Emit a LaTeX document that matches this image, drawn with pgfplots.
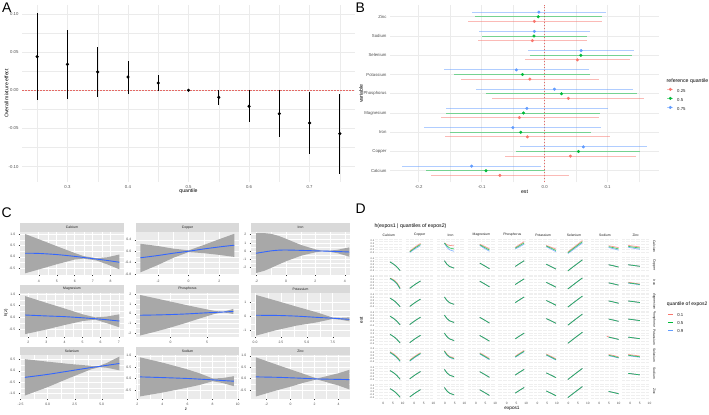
\documentclass[border=0pt]{standalone}
\usepackage{fontspec}
\setmainfont{Liberation Sans}
\usepackage{pgfplots}
\pgfplotsset{compat=1.18}
\usepackage{pgfplotstable}

\definecolor{ggred}{HTML}{F8766D}
\definecolor{gggreen}{HTML}{00BA38}
\definecolor{ggblue}{HTML}{619CFF}
\definecolor{grid92}{HTML}{EBEBEB}
\definecolor{gray30}{HTML}{4D4D4D}
\definecolor{gray20}{HTML}{333333}
\definecolor{gray10}{HTML}{1A1A1A}
\definecolor{stripbg}{HTML}{D9D9D9}
\definecolor{panelgray}{HTML}{EBEBEB}
\definecolor{ribbon}{HTML}{A8A8A8}
\definecolor{smoothblue}{HTML}{3366FF}
\definecolor{refred}{HTML}{E46A66}
\definecolor{Dbg}{HTML}{EFEFEF}
\definecolor{Dgrid}{HTML}{FFFFFF}

\newcommand\fs[1]{\fontsize{#1}{#1}\selectfont}

\pgfplotsset{
 /pgf/number format/assume math mode=true,
 ggA/.style={anchor=south west, scale only axis, axis line style={draw=none},
   major tick length=0pt, minor tick length=0pt, tick style={draw=none},
   grid=both, major grid style={draw=grid92, line width=0.55bp},
   minor grid style={draw=grid92, line width=0.3bp},
   tick label style={font=\fs{4.3}, text=gray30}, clip=false},
 Cfacet/.style={anchor=south west, scale only axis, height=43.4bp,
   axis background/.style={fill=panelgray}, grid=both,
   major grid style={draw=white, line width=0.5bp},
   minor grid style={draw=white, line width=0.25bp},
   axis line style={draw=none}, tick align=outside, tick pos=left,
   major tick length=1.3bp, minor tick length=0pt,
   major tick style={draw=gray20, line width=0.4bp}, minor tick style={draw=none},
   minor x tick num=1, minor y tick num=1,
   tick label style={font=\fs{3.4}, text=gray30}},
 Cribbon/.style={draw=none, fill=ribbon},
 Cline/.style={smoothblue, line width=0.9bp, smooth},
 Dcell/.style={anchor=south west, scale only axis, width=27.7bp, height=15.3bp,
   xmin=-4.3, xmax=10.05, ymin=-0.5, ymax=0.5,
   axis background/.style={fill=Dbg}, grid=both,
   major grid style={draw=Dgrid, line width=0.35bp},
   minor grid style={draw=Dgrid, line width=0.2bp},
   xtick={0,5,10}, minor xtick={-2.5,2.5,7.5},
   ytick={-0.4,-0.2,0,0.2,0.4}, minor ytick={-0.3,-0.1,0.1,0.3},
   axis line style={draw=none}, major tick length=0pt, minor tick length=0pt,
   tick style={draw=none}, xticklabels={}, yticklabels={},
   xticklabel style={font=\fs{3.2}, text=gray30},
   yticklabel style={font=\fs{2.5}, text=gray30, inner sep=0.6bp}},
 Dline/.style={line width=0.7bp, opacity=0.75, smooth},
 Dr0/.style={}, Dr1/.style={}, Dr2/.style={}, Dr3/.style={}, Dr4/.style={},
 Dr5/.style={}, Dr6/.style={}, Dr7/.style={}, Dr8/.style={xticklabels={0,5,10}},
 Dc0/.style={yticklabels={-0.4,-0.2,0.0,0.2,0.4}}, Dc1/.style={}, Dc2/.style={},
 Dc3/.style={}, Dc4/.style={}, Dc5/.style={}, Dc6/.style={}, Dc7/.style={}, Dc8/.style={},
}

\newcommand\Dpos[2]{\pgfmathsetmacro\Dx{375+30.86*#2}\pgfmathsetmacro\Dy{159.7-18.1*#1}}
\newcommand\Dtri[5]{\Dpos{#1}{#2}%
 \begin{axis}[Dcell, Dr#1, Dc#2, at={(\Dx bp,\Dy bp)}]
 \addplot[Dline, ggred] coordinates {#3};
 \addplot[Dline, ggblue] coordinates {#5};
 \addplot[Dline, gggreen] coordinates {#4};
 \end{axis}}
\newcommand\Dsame[3]{\Dtri{#1}{#2}{#3}{#3}{#3}}
\newcommand\Dempty[1]{\Dpos{#1}{#1}%
 \begin{axis}[Dcell, Dr#1, Dc#1, at={(\Dx bp,\Dy bp)}]
 \end{axis}}

\pgfplotstableread{
q est lo hi
0.25 0.044 -0.0127 0.1008
0.30 0.034 -0.011 0.0785
0.35 0.024 -0.0088 0.0563
0.40 0.0174 -0.0044 0.039
0.45 0.0096 -0.0005 0.0196
0.50 0 0 0
0.55 -0.0092 -0.0196 0.0
0.60 -0.021 -0.041 0.0005
0.65 -0.0306 -0.061 0.0
0.70 -0.0428 -0.0838 -0.002
0.75 -0.0568 -0.109 -0.005
}\tabA

\pgfplotstableread{
y est lo hi
0.76 -0.071 -0.180 0.039
1.76 0.041 -0.0622 0.1448
2.76 -0.0273 -0.159 0.1044
3.76 -0.040 -0.165 0.086
4.76 0.0378 -0.0833 0.158
5.76 -0.0235 -0.1325 0.0865
6.76 0.052 -0.031 0.135
7.76 -0.0194 -0.106 0.068
8.76 -0.0162 -0.122 0.0913
}\tabBr
\pgfplotstableread{
y est lo hi
1 -0.0933 -0.188 0.0
2 0.0537 -0.0448 0.1516
3 -0.0378 -0.150 0.0738
4 -0.0336 -0.156 0.0886
5 0.0267 -0.0933 0.1473
6 -0.0352 -0.1437 0.0727
7 0.0575 -0.0225 0.1384
8 -0.0171 -0.1003 0.0675
9 -0.0103 -0.110 0.0908
}\tabBg
\pgfplotstableread{
y est lo hi
1.24 -0.116 -0.2262 -0.006
2.24 0.0616 -0.0394 0.1622
3.24 -0.0505 -0.1917 0.090
4.24 -0.0283 -0.157 0.100
5.24 0.0156 -0.1087 0.140
6.24 -0.0448 -0.1606 0.0706
7.24 0.058 -0.026 0.1425
8.24 -0.0162 -0.104 0.0722
9.24 -0.0092 -0.116 0.0976
}\tabBb

\begin{document}
\begin{tikzpicture}[x=1bp,y=1bp]
\useasboundingbox (0,0) rectangle (709,414);

% ================= Panel A =================
\begin{axis}[ggA, at={(22bp,232.4bp)}, width=333bp, height=176.1bp,
  xmin=0.225, xmax=0.775, ymin=-0.1195, ymax=0.111,
  xtick={0.3,0.4,0.5,0.6,0.7}, xticklabels={0.3,0.4,0.5,0.6,0.7},
  minor xtick={0.25,0.35,0.45,0.55,0.65,0.75},
  ytick={-0.1,-0.05,0,0.05,0.1}, yticklabels={-0.10,-0.05,0.00,0.05,0.10},
  minor ytick={-0.075,-0.025,0.025,0.075}]
\addplot[refred, line width=0.6bp, dash pattern=on 1.6bp off 1.4bp] coordinates {(0.225,0) (0.775,0)};
\addplot[black, only marks, mark=*, mark size=1.4bp,
  error bars/.cd, y dir=both, y explicit, error mark=none,
  error bar style={line width=0.8bp, black}]
  table[x=q, y=est, y error plus expr=\thisrow{hi}-\thisrow{est}, y error minus expr=\thisrow{est}-\thisrow{lo}] {\tabA};
\end{axis}
\node[anchor=north west, inner sep=0, font=\fs{14}] at (2,411) {A};
\node[rotate=90, font=\fs{5.2}] at (6.5,320.5) {Overall mixture effect};
\node[font=\fs{5.2}] at (188.5,222.5) {quantile};

% ================= Panel B =================
\begin{axis}[ggA, at={(390bp,231.7bp)}, width=269bp, height=177.1bp,
  xmin=-0.2456, xmax=0.1816, ymin=0.4, ymax=9.6,
  xtick={-0.2,-0.1,0,0.1}, xticklabels={-0.2,-0.1,0.0,0.1},
  minor xtick={-0.15,-0.05,0.05,0.15},
  ytick={1,2,3,4,5,6,7,8,9},
  yticklabels={Calcium,Copper,Iron,Magnesium,Phosphorus,Potassium,Selenium,Sodium,Zinc}]
\addplot[refred, line width=0.6bp, dash pattern=on 1.6bp off 1.4bp] coordinates {(0,0.4) (0,9.6)};
\addplot[ggred, only marks, mark=*, mark size=1.35bp,
  error bars/.cd, x dir=both, x explicit, error mark=none,
  error bar style={line width=0.9bp, ggred, opacity=0.5}]
  table[x=est, y=y, x error plus expr=\thisrow{hi}-\thisrow{est}, x error minus expr=\thisrow{est}-\thisrow{lo}] {\tabBr};
\addplot[gggreen, only marks, mark=*, mark size=1.35bp,
  error bars/.cd, x dir=both, x explicit, error mark=none,
  error bar style={line width=0.9bp, gggreen, opacity=0.5}]
  table[x=est, y=y, x error plus expr=\thisrow{hi}-\thisrow{est}, x error minus expr=\thisrow{est}-\thisrow{lo}] {\tabBg};
\addplot[ggblue, only marks, mark=*, mark size=1.35bp,
  error bars/.cd, x dir=both, x explicit, error mark=none,
  error bar style={line width=0.9bp, ggblue, opacity=0.5}]
  table[x=est, y=y, x error plus expr=\thisrow{hi}-\thisrow{est}, x error minus expr=\thisrow{est}-\thisrow{lo}] {\tabBb};
\end{axis}
\node[anchor=north west, inner sep=0, font=\fs{14}] at (355.5,411) {B};
\node[rotate=90, font=\fs{5.2}] at (361,320.3) {variable};
\node[font=\fs{5.2}] at (524.5,222.5) {est};
\node[anchor=west, inner sep=0, font=\fs{5.2}] at (666.5,333) {reference quantile};
\begin{axis}[hide axis, scale only axis, width=1bp, height=1bp, xmin=0, xmax=1, ymin=0, ymax=1,
  anchor=south west, at={(666.9bp,326.25bp)},
  legend style={at={(0,0)}, anchor=north west, draw=none, fill=none, inner sep=0pt, outer sep=0pt,
    font=\fs{4.3}, text=gray10, row sep=4.1bp,
    nodes={inner sep=0.4bp, text height=3.1bp, text depth=0bp},
    /tikz/every odd column/.append style={column sep=3bp}},
  legend cell align=left,
  legend image code/.code={\draw[#1, line width=0.9bp, opacity=0.5] (0bp,1.5bp) -- (6bp,1.5bp); \fill[#1] (3bp,1.5bp) circle (1.35bp);}]
\addlegendimage{ggred}\addlegendentry{0.25}
\addlegendimage{gggreen}\addlegendentry{0.5}
\addlegendimage{ggblue}\addlegendentry{0.75}
\end{axis}

% ================= Panel C =================
\begin{axis}[Cfacet, name=c1, at={(20bp,139.1bp)}, width=104bp,
  xmin=2.96, xmax=8.74, ymin=-0.80, ymax=1.12,
  xtick={4,5,6,7,8}, xticklabels={4,5,6,7,8},
  ytick={-0.5,0,0.5,1}, yticklabels={-0.5,0.0,0.5,1.0}]
\addplot[Cribbon] coordinates {(3.24,1.01)(4,0.78)(5,0.47)(6,0.17)(6.5,0.03)(7.2,-0.06)(7.8,-0.02)(8.48,0.10)(8.48,-0.55)(7.8,-0.33)(7.2,-0.16)(6.5,-0.08)(6,-0.12)(5,-0.33)(4,-0.56)(3.24,-0.73)};
\addplot[Cline] coordinates {(3.24,0.16)(4,0.15)(5,0.10)(6,0.02)(6.5,-0.03)(7.2,-0.10)(7.8,-0.16)(8.48,-0.24)};
\end{axis}
\begin{axis}[Cfacet, name=c2, at={(136bp,139.1bp)}, width=103bp,
  xmin=-3.44, xmax=3.29, ymin=-0.83, ymax=0.69,
  xtick={-2,0,2}, xticklabels={-2,0,2},
  ytick={-0.8,-0.4,0,0.4}, yticklabels={-0.8,-0.4,0.0,0.4}]
\addplot[Cribbon] coordinates {(-3.15,0.26)(-2,0.18)(-1,0.09)(0,0.03)(1,0.22)(2,0.42)(2.98,0.61)(2.98,-0.2)(2,-0.13)(1,-0.07)(0,-0.03)(-1,-0.23)(-2,-0.48)(-3.15,-0.74)};
\addplot[Cline] coordinates {(-3.15,-0.23)(-2,-0.15)(-1,-0.07)(0,0.0)(1,0.08)(2,0.15)(2.98,0.21)};
\end{axis}
\begin{axis}[Cfacet, name=c3, at={(251bp,139.1bp)}, width=99bp,
  xmin=-2.38, xmax=4.35, ymin=-2.93, ymax=2.39,
  xtick={-2,0,2,4}, xticklabels={-2,0,2,4},
  ytick={-2,-1,0,1,2}, yticklabels={-2,-1,0,1,2}]
\addplot[Cribbon] coordinates {(-2.04,2.2)(-1.5,2.2)(-1,2.1)(-0.5,1.85)(0,1.5)(1,0.75)(2,0.2)(2.5,0.03)(3,0.05)(3.5,0.15)(4.3,0.45)(4.3,-0.69)(3.5,-0.27)(3,-0.11)(2.5,-0.03)(2,-0.16)(1,-0.59)(0,-1.26)(-0.5,-1.65)(-1,-2.06)(-1.5,-2.44)(-2.04,-2.7)};
\addplot[Cline] coordinates {(-2.04,-0.28)(-1.5,-0.12)(-1,0.02)(-0.5,0.1)(0,0.12)(1,0.08)(2,0.02)(3,-0.03)(4.3,-0.12)};
\end{axis}
\begin{axis}[Cfacet, name=c4, at={(20bp,77.3bp)}, width=104bp,
  xmin=1.54, xmax=7.29, ymin=-0.83, ymax=1.03,
  xtick={2,3,4,5,6,7}, xticklabels={2,3,4,5,6,7},
  ytick={-0.5,0,0.5,1}, yticklabels={-0.5,0.0,0.5,1.0}]
\addplot[Cribbon] coordinates {(1.82,0.91)(3,0.62)(4,0.38)(5,0.13)(5.7,0.0)(6.3,0.03)(7.04,0.13)(7.04,-0.43)(6.3,-0.24)(5.7,-0.1)(5,-0.16)(4,-0.33)(3,-0.52)(1.82,-0.72)};
\addplot[Cline] coordinates {(1.82,0.1)(3,0.06)(4,0.03)(5,-0.02)(5.7,-0.06)(6.3,-0.1)(7.04,-0.16)};
\end{axis}
\begin{axis}[Cfacet, name=c5, at={(136bp,77.3bp)}, width=103bp,
  xmin=-4.73, xmax=9.38, ymin=-2.35, ymax=2.1,
  xtick={0,5}, xticklabels={0,5},
  ytick={-2,-1,0,1,2}, yticklabels={-2,-1,0,1,2}]
\addplot[Cribbon] coordinates {(-4.18,1.93)(-2,1.58)(0,1.25)(2,0.92)(4,0.6)(6,0.3)(7.2,0.2)(8.6,0.5)(8.6,-0.02)(7.2,0.16)(6,-0.02)(4,-0.48)(2,-0.96)(0,-1.41)(-2,-1.82)(-4.18,-2.23)};
\addplot[Cline] coordinates {(-4.18,-0.15)(-2,-0.12)(0,-0.08)(2,-0.02)(4,0.06)(6,0.14)(7.2,0.18)(8.6,0.24)};
\end{axis}
\begin{axis}[Cfacet, name=c6, at={(251bp,77.3bp)}, width=99bp,
  xmin=-0.39, xmax=9.17, ymin=-1.43, ymax=1.67,
  xtick={0,2.5,5,7.5}, xticklabels={0.0,2.5,5.0,7.5},
  ytick={-1,0,1}, yticklabels={-1,0,1}]
\addplot[Cribbon] coordinates {(0.1,1.55)(2,1.15)(4,0.72)(6,0.3)(7.5,-0.06)(8.3,-0.08)(9.1,-0.05)(9.1,-0.33)(8.3,-0.22)(7.5,-0.16)(6,-0.4)(4,-0.64)(2,-0.97)(0.1,-1.35)};
\addplot[Cline] coordinates {(0.1,0.1)(2,0.09)(4,0.04)(6,-0.05)(7.5,-0.11)(8.3,-0.15)(9.1,-0.19)};
\end{axis}
\begin{axis}[Cfacet, name=c7, at={(20bp,15.3bp)}, width=104bp,
  xmin=-2.56, xmax=7.06, ymin=-1.23, ymax=0.68,
  xtick={-2.5,0,2.5,5}, xticklabels={-2.5,0.0,2.5,5.0},
  ytick={-1,-0.5,0,0.5}, yticklabels={-1.0,-0.5,0.0,0.5}]
\addplot[Cribbon] coordinates {(-2.1,0.51)(0,0.4)(2,0.3)(4,0.22)(4.8,0.22)(5.5,0.35)(6.63,0.62)(6.63,0.02)(5.5,0.13)(4.8,0.16)(4,0.06)(2,-0.32)(0,-0.72)(-2.1,-1.09)};
\addplot[Cline] coordinates {(-2.1,-0.29)(0,-0.16)(2,-0.01)(4,0.14)(4.8,0.19)(5.5,0.24)(6.63,0.32)};
\end{axis}
\begin{axis}[Cfacet, name=c8, at={(136bp,15.3bp)}, width=103bp,
  xmin=1.9, xmax=10.1, ymin=-0.89, ymax=1.02,
  xtick={2,4,6,8,10}, xticklabels={2,4,6,8,10},
  ytick={-0.5,0,0.5,1}, yticklabels={-0.5,0.0,0.5,1.0}]
\addplot[Cribbon] coordinates {(2.22,0.93)(4,0.7)(6,0.4)(7,0.22)(8,0.0)(8.8,0.02)(9.7,0.1)(9.7,-0.34)(8.8,-0.2)(8,-0.12)(7,-0.28)(6,-0.4)(4,-0.62)(2.22,-0.79)};
\addplot[Cline] coordinates {(2.22,0.07)(4,0.04)(6,0.0)(7,-0.03)(8,-0.06)(8.8,-0.09)(9.7,-0.12)};
\end{axis}
\begin{axis}[Cfacet, name=c9, at={(251bp,15.3bp)}, width=99bp,
  xmin=-3.29, xmax=4.96, ymin=-0.89, ymax=1.02,
  xtick={-2,0,2,4}, xticklabels={-2,0,2,4},
  ytick={-0.5,0,0.5,1}, yticklabels={-0.5,0.0,0.5,1.0}]
\addplot[Cribbon] coordinates {(-2.88,0.93)(-1,0.58)(0,0.4)(1,0.22)(2.2,0.0)(3,0.1)(4,0.23)(4.9,0.38)(4.9,-0.48)(4,-0.31)(3,-0.16)(2.2,-0.04)(1,-0.2)(0,-0.36)(-1,-0.5)(-2.88,-0.79)};
\addplot[Cline] coordinates {(-2.88,0.07)(-1,0.05)(0,0.03)(1,0.01)(2.2,-0.02)(3,-0.03)(4,-0.04)(4.9,-0.05)};
\end{axis}
\foreach \a/\t in {c1/Calcium,c2/Copper,c3/Iron,c4/Magnesium,c5/Phosphorus,c6/Potassium,c7/Selenium,c8/Sodium,c9/Zinc}{
  \fill[stripbg] (\a.north west) rectangle ([yshift=8.5bp]\a.north east);
  \node[font=\fs{3.4}, text=gray10] at ([yshift=4.25bp]\a.north) {\t};
}
\node[anchor=north west, inner sep=0, font=\fs{14}] at (1.5,206) {C};
\node[rotate=90, font=\fs{4.3}] at (6,101) {h(z)};
\node[font=\fs{4.3}] at (186,5) {z};

% ================= Panel D =================
\node[anchor=north west, inner sep=0, font=\fs{14}] at (355.5,210.5) {D};
\node[anchor=west, inner sep=0, font=\fs{5.2}] at (374.3,188.3) {h(expos1 | quantiles of expos2)};
\foreach \t [count=\i from 0] in {Calcium,Copper,Iron,Magnesium,Phosphorus,Potassium,Selenium,Sodium,Zinc}{
  \node[font=\fs{3.4}, text=gray10] at ({388.85+30.86*\i},179) {\t};
  \begin{scope}
  \clip (650,{159.7-18.1*\i}) rectangle (659,{175-18.1*\i});
  \node[rotate=-90, font=\fs{3.4}, text=gray10] at (654.3,{167.35-18.1*\i}) {\t};
  \end{scope}
}
\node[rotate=90, font=\fs{4.7}] at (361.5,94) {est};
\node[font=\fs{4.7}] at (512,5.3) {expos1};

% row 0: Calcium
\Dempty{0}
\Dtri{0}{1}{(-2.3,-0.30)(0.5,-0.02)(3.3,0.21)}{(-2.3,-0.34)(0.5,-0.08)(3.3,0.14)}{(-2.3,-0.38)(0.5,-0.14)(3.3,0.07)}
\Dtri{0}{2}{(-0.3,0.24)(1,0.13)(2.3,0.08)(4.7,0.06)}{(-0.3,0.24)(1,0.05)(2.3,-0.08)(4.7,-0.15)}{(-0.3,0.22)(1,-0.04)(2.3,-0.2)(4.7,-0.3)}
\Dtri{0}{3}{(2,0.16)(4.5,0.02)(7,-0.14)}{(2,0.12)(4.5,-0.05)(7,-0.22)}{(2,0.08)(4.5,-0.12)(7,-0.3)}
\Dtri{0}{4}{(4.4,-0.05)(6.7,0.14)(9,0.32)}{(4.4,-0.1)(6.7,0.07)(9,0.24)}{(4.4,-0.15)(6.7,0.0)(9,0.16)}
\Dtri{0}{5}{(4.5,0.08)(7,-0.04)(9.5,-0.16)}{(4.5,0.04)(7,-0.1)(9.5,-0.25)}{(4.5,0.0)(7,-0.16)(9.5,-0.33)}
\Dtri{0}{6}{(-0.3,-0.34)(3.5,0.03)(7.2,0.4)}{(-0.3,-0.4)(3.5,-0.03)(7.2,0.32)}{(-0.3,-0.45)(3.5,-0.1)(7.2,0.24)}
\Dtri{0}{7}{(4.8,0.06)(7.4,0.0)(10,-0.06)}{(4.8,0.0)(7.4,-0.07)(10,-0.15)}{(4.8,-0.05)(7.4,-0.14)(10,-0.23)}
\Dtri{0}{8}{(-1,0.08)(2,0.03)(5,-0.02)}{(-1,0.02)(2,-0.04)(5,-0.09)}{(-1,-0.04)(2,-0.11)(5,-0.17)}
% row 1: Copper
\Dsame{1}{0}{(3.5,0.18)(5.2,0.05)(7,-0.14)(8.7,-0.38)}
\Dempty{1}
\Dsame{1}{2}{(-0.3,0.26)(1,0.03)(2.3,-0.11)(4.7,-0.22)}
\Dsame{1}{3}{(2,0.11)(4.5,-0.07)(7,-0.26)}
\Dsame{1}{4}{(4.4,-0.11)(6.7,0.08)(9,0.26)}
\Dsame{1}{5}{(4.5,0.03)(7,-0.12)(9.5,-0.28)}
\Dsame{1}{6}{(-0.3,-0.4)(3.5,-0.03)(7.2,0.32)}
\Dsame{1}{7}{(4.8,0.0)(7.4,-0.07)(10,-0.15)}
\Dsame{1}{8}{(-1,0.0)(2,-0.05)(5,-0.1)}
% row 2: Iron
\Dtri{2}{0}{(3.5,0.31)(5.2,0.21)(7,0.01)(8.7,-0.33)}{(3.5,0.29)(5.2,0.17)(7,-0.04)(8.7,-0.38)}{(3.5,0.27)(5.2,0.14)(7,-0.07)(8.7,-0.41)}
\Dsame{2}{1}{(-2.3,-0.36)(0.5,-0.1)(3.3,0.12)}
\Dempty{2}
\Dsame{2}{3}{(2,0.11)(4.5,-0.07)(7,-0.26)}
\Dsame{2}{4}{(4.4,-0.11)(6.7,0.08)(9,0.26)}
\Dsame{2}{5}{(4.5,0.03)(7,-0.12)(9.5,-0.28)}
\Dsame{2}{6}{(-0.3,-0.4)(3.5,-0.03)(7.2,0.32)}
\Dsame{2}{7}{(4.8,0.0)(7.4,-0.07)(10,-0.15)}
\Dtri{2}{8}{(-1,0.04)(2,-0.02)(5,-0.08)}{(-1,0.0)(2,-0.05)(5,-0.1)}{(-1,-0.02)(2,-0.07)(5,-0.12)}
% row 3: Magnesium
\Dsame{3}{0}{(3.5,0.18)(5.2,0.05)(7,-0.14)(8.7,-0.38)}
\Dsame{3}{1}{(-2.3,-0.36)(0.5,-0.1)(3.3,0.12)}
\Dsame{3}{2}{(-0.3,0.26)(1,0.03)(2.3,-0.11)(4.7,-0.22)}
\Dempty{3}
\Dsame{3}{4}{(4.4,-0.11)(6.7,0.08)(9,0.26)}
\Dsame{3}{5}{(4.5,0.03)(7,-0.12)(9.5,-0.28)}
\Dsame{3}{6}{(-0.3,-0.4)(3.5,-0.03)(7.2,0.32)}
\Dsame{3}{7}{(4.8,0.0)(7.4,-0.07)(10,-0.15)}
\Dsame{3}{8}{(-1,0.0)(2,-0.05)(5,-0.1)}
% row 4: Phosphorus
\Dsame{4}{0}{(3.5,0.18)(5.2,0.05)(7,-0.14)(8.7,-0.38)}
\Dsame{4}{1}{(-2.3,-0.36)(0.5,-0.1)(3.3,0.12)}
\Dsame{4}{2}{(-0.3,0.26)(1,0.03)(2.3,-0.11)(4.7,-0.22)}
\Dsame{4}{3}{(2,0.11)(4.5,-0.07)(7,-0.26)}
\Dempty{4}
\Dsame{4}{5}{(4.5,0.03)(7,-0.12)(9.5,-0.28)}
\Dsame{4}{6}{(-0.3,-0.4)(3.5,-0.03)(7.2,0.32)}
\Dsame{4}{7}{(4.8,0.0)(7.4,-0.07)(10,-0.15)}
\Dsame{4}{8}{(-1,0.0)(2,-0.05)(5,-0.1)}
% row 5: Potassium
\Dsame{5}{0}{(3.5,0.18)(5.2,0.05)(7,-0.14)(8.7,-0.38)}
\Dsame{5}{1}{(-2.3,-0.36)(0.5,-0.1)(3.3,0.12)}
\Dsame{5}{2}{(-0.3,0.26)(1,0.03)(2.3,-0.11)(4.7,-0.22)}
\Dsame{5}{3}{(2,0.11)(4.5,-0.07)(7,-0.26)}
\Dsame{5}{4}{(4.4,-0.11)(6.7,0.08)(9,0.26)}
\Dempty{5}
\Dsame{5}{6}{(-0.3,-0.4)(3.5,-0.03)(7.2,0.32)}
\Dtri{5}{7}{(3.8,0.06)(4.8,0.02)(7.4,-0.06)(10,-0.14)}{(4.8,0.0)(7.4,-0.07)(10,-0.15)}{(4.8,0.0)(7.4,-0.07)(10,-0.15)}
\Dsame{5}{8}{(-1,0.0)(2,-0.05)(5,-0.1)}
% row 6: Selenium
\Dtri{6}{0}{(3.5,0.23)(5.2,0.1)(7,-0.09)(8.7,-0.33)}{(3.5,0.18)(5.2,0.05)(7,-0.14)(8.7,-0.38)}{(3.5,0.16)(5.2,0.02)(7,-0.17)(8.7,-0.41)}
\Dtri{6}{1}{(-2.3,-0.31)(0.5,-0.05)(3.3,0.17)}{(-2.3,-0.36)(0.5,-0.1)(3.3,0.12)}{(-2.3,-0.39)(0.5,-0.13)(3.3,0.09)}
\Dtri{6}{2}{(-0.3,0.3)(1,0.07)(2.3,-0.07)(4.7,-0.18)}{(-0.3,0.26)(1,0.03)(2.3,-0.11)(4.7,-0.22)}{(-0.3,0.24)(1,0.0)(2.3,-0.14)(4.7,-0.25)}
\Dtri{6}{3}{(2,0.16)(4.5,-0.02)(7,-0.21)}{(2,0.11)(4.5,-0.07)(7,-0.26)}{(2,0.08)(4.5,-0.1)(7,-0.29)}
\Dtri{6}{4}{(4.4,-0.06)(6.7,0.13)(9,0.31)}{(4.4,-0.11)(6.7,0.08)(9,0.26)}{(4.4,-0.14)(6.7,0.05)(9,0.23)}
\Dtri{6}{5}{(4.5,0.08)(7,-0.07)(9.5,-0.23)}{(4.5,0.03)(7,-0.12)(9.5,-0.28)}{(4.5,0.0)(7,-0.15)(9.5,-0.31)}
\Dempty{6}
\Dtri{6}{7}{(4.8,0.05)(7.4,-0.02)(10,-0.1)}{(4.8,0.0)(7.4,-0.07)(10,-0.15)}{(4.8,-0.03)(7.4,-0.1)(10,-0.18)}
\Dtri{6}{8}{(-1,0.05)(2,0.0)(5,-0.05)}{(-1,0.0)(2,-0.05)(5,-0.1)}{(-1,-0.03)(2,-0.08)(5,-0.13)}
% row 7: Sodium
\Dsame{7}{0}{(3.5,0.18)(5.2,0.05)(7,-0.14)(8.7,-0.38)}
\Dsame{7}{1}{(-2.3,-0.36)(0.5,-0.1)(3.3,0.12)}
\Dsame{7}{2}{(-0.3,0.26)(1,0.03)(2.3,-0.11)(4.7,-0.22)}
\Dsame{7}{3}{(2,0.11)(4.5,-0.07)(7,-0.26)}
\Dsame{7}{4}{(4.4,-0.11)(6.7,0.08)(9,0.26)}
\Dsame{7}{5}{(4.5,0.03)(7,-0.12)(9.5,-0.28)}
\Dsame{7}{6}{(-0.3,-0.4)(3.5,-0.03)(7.2,0.32)}
\Dempty{7}
\Dsame{7}{8}{(-1,0.0)(2,-0.05)(5,-0.1)}
% row 8: Zinc
\Dsame{8}{0}{(3.5,0.18)(5.2,0.05)(7,-0.14)(8.7,-0.38)}
\Dsame{8}{1}{(-2.3,-0.36)(0.5,-0.1)(3.3,0.12)}
\Dsame{8}{2}{(-0.3,0.26)(1,0.03)(2.3,-0.11)(4.7,-0.22)}
\Dsame{8}{3}{(2,0.11)(4.5,-0.07)(7,-0.26)}
\Dsame{8}{4}{(4.4,-0.11)(6.7,0.08)(9,0.26)}
\Dsame{8}{5}{(4.5,0.03)(7,-0.12)(9.5,-0.28)}
\Dsame{8}{6}{(-0.3,-0.4)(3.5,-0.03)(7.2,0.32)}
\Dsame{8}{7}{(4.8,0.0)(7.4,-0.07)(10,-0.15)}
\Dempty{8}

\node[anchor=west, inner sep=0, font=\fs{5}] at (666.7,110) {quantile of expos2};
\begin{axis}[hide axis, scale only axis, width=1bp, height=1bp, xmin=0, xmax=1, ymin=0, ymax=1,
  anchor=south west, at={(667.7bp,100.55bp)},
  legend style={at={(0,0)}, anchor=north west, draw=none, fill=none, inner sep=0pt, outer sep=0pt,
    font=\fs{4.3}, text=gray10, row sep=4.1bp,
    nodes={inner sep=0.4bp, text height=3.1bp, text depth=0bp},
    /tikz/every odd column/.append style={column sep=3.6bp}},
  legend cell align=left,
  legend image code/.code={\draw[#1, line width=0.6bp] (0bp,1.5bp) -- (5bp,1.5bp);}]
\addlegendimage{ggred}\addlegendentry{0.1}
\addlegendimage{gggreen}\addlegendentry{0.5}
\addlegendimage{ggblue}\addlegendentry{0.9}
\end{axis}
\end{tikzpicture}
\end{document}
